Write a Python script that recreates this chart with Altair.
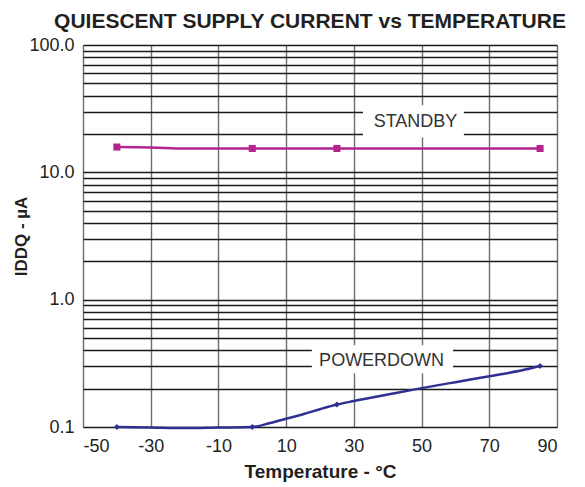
import altair as alt
import pandas as pd

# ---------------- data ----------------
title_text = "QUIESCENT SUPPLY CURRENT vs TEMPERATURE"
x_title = "Temperature - °C"
y_title = "IDDQ - µA"

x_ticks = [-50, -30, -10, 10, 30, 50, 70, 90]
y_grid = [0.1, 0.2, 0.3, 0.4, 0.5, 0.6, 0.7, 0.8, 0.9,
          1, 2, 3, 4, 5, 6, 7, 8, 9,
          10, 20, 30, 40, 50, 60, 70, 80, 90, 100]

# STANDBY series
sb_temp = [-40, -30, -20, 0, 25, 50, 85]
sb_val = [15.8, 15.7, 15.4, 15.4, 15.4, 15.4, 15.4]
sb_mark_temp = [-40, 0, 25, 85]
sb_mark_val = [15.8, 15.4, 15.4, 15.4]

# POWERDOWN series
pd_temp = [-40, -30, -20, -10, 0, 5, 10, 15, 20, 25, 30, 40, 50, 60, 70, 80, 85]
pd_val = [0.100, 0.099, 0.098, 0.099, 0.100, 0.107, 0.116, 0.126, 0.138, 0.150,
          0.160, 0.180, 0.202, 0.225, 0.250, 0.280, 0.301]
pd_mark_temp = [-40, 0, 25, 85]
pd_mark_val = [0.100, 0.100, 0.150, 0.301]

# annotation labels (data coordinates)
label_text = ["STANDBY", "POWERDOWN"]
label_x = [48.2, 38.2]
label_y = [24.7, 0.330]
box_x1 = [32.7, 17.6]
box_x2 = [62.5, 59.3]
box_y1 = [18.8, 0.264]
box_y2 = [33.6, 0.439]

MAGENTA = "#B5238F"
NAVY = "#2E3192"
TXT = "#231F20"
FONT = "Liberation Sans"

sb_df = pd.DataFrame({"t": sb_temp, "v": sb_val})
sbm_df = pd.DataFrame({"t": sb_mark_temp, "v": sb_mark_val})
pd_df = pd.DataFrame({"t": pd_temp, "v": pd_val})
pdm_df = pd.DataFrame({"t": pd_mark_temp, "v": pd_mark_val})
lab_df = pd.DataFrame({"t": label_x, "v": label_y, "txt": label_text})
box_df = pd.DataFrame({"t": box_x1, "t2": box_x2, "v": box_y1, "v2": box_y2})

xs = alt.Scale(domain=[-50, 90], nice=False, zero=False)
ys = alt.Scale(type="log", domain=[0.1, 100], nice=False)

xax = alt.Axis(values=x_ticks, title=x_title, grid=True, gridColor="#6d6d6d",
               gridWidth=1.4, ticks=False, domain=False, labelFontSize=18,
               labelFont=FONT, labelColor=TXT, labelPadding=10,
               labelExpr="'' + datum.value",
               titleFont=FONT, titleFontSize=19, titleFontWeight="bold",
               titleColor=TXT, titlePadding=7, labelOverlap=False)
yax = alt.Axis(values=y_grid, title=y_title, grid=True, gridColor="#1a1a1a",
               gridWidth=1.3, ticks=False, domain=False, labelFontSize=18,
               labelFont=FONT, labelColor=TXT, labelPadding=9,
               labelExpr="datum.value == 100 ? '100.0' : datum.value == 10 ? '10.0' : datum.value == 1 ? '1.0' : datum.value == 0.1 ? '0.1' : ''",
               titleFont=FONT, titleFontSize=17, titleFontWeight="bold",
               titleColor=TXT, titlePadding=-2, labelOverlap=False)


def X(field="t"):
    return alt.X(field, type="quantitative", scale=xs, axis=xax)


def Y(field="v"):
    return alt.Y(field, type="quantitative", scale=ys, axis=yax)


boxes = alt.Chart(box_df).mark_rect(fill="white", stroke=None).encode(
    x=X("t"), x2="t2", y=Y("v"), y2="v2")

sb_line = alt.Chart(sb_df).mark_line(color=MAGENTA, strokeWidth=2.5,
                                     interpolate="monotone").encode(x=X(), y=Y())
sb_pts = alt.Chart(sbm_df).mark_square(color=MAGENTA, size=50, opacity=1).encode(
    x=X(), y=Y())

pd_line = alt.Chart(pd_df).mark_line(color=NAVY, strokeWidth=2.5,
                                     interpolate="monotone").encode(x=X(), y=Y())
pd_pts = alt.Chart(pdm_df).mark_point(shape="diamond", filled=True, color=NAVY,
                                      size=35, opacity=1).encode(x=X(), y=Y())

labels = alt.Chart(lab_df).mark_text(font=FONT, fontSize=18, color="#333333",
                                     baseline="middle", align="center").encode(
    x=X(), y=Y(), text="txt:N")

chart = alt.layer(boxes, sb_line, pd_line, sb_pts, pd_pts, labels).properties(
    width=474,
    height=382,
    title=alt.TitleParams(title_text, font=FONT, fontSize=21, fontWeight="bold",
                          color=TXT, anchor="middle", offset=4, dx=-10),
    autosize=alt.AutoSizeParams(type="none"),
    padding={"left": 75, "top": 37, "right": 20, "bottom": 56},
).configure_view(stroke="#1a1a1a", strokeWidth=2.6).configure(background="white")

chart.save("out.html", embed_options={"renderer": "svg", "actions": False})
